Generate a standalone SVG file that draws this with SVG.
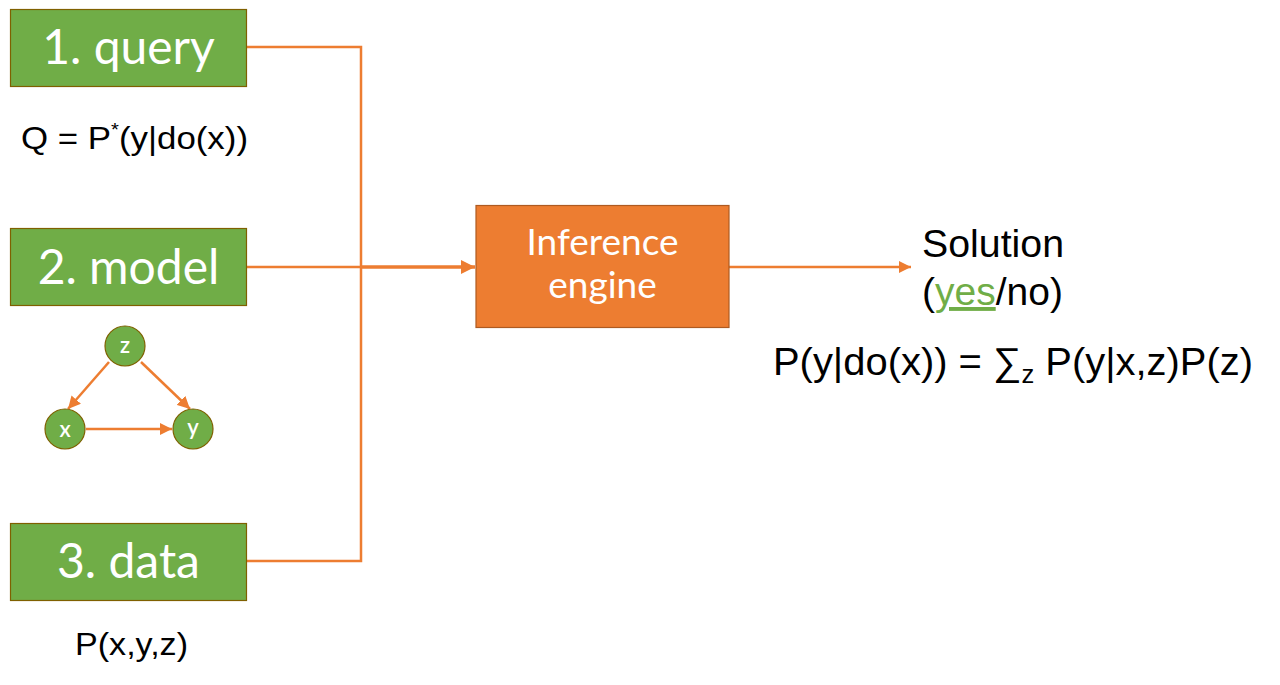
<svg xmlns="http://www.w3.org/2000/svg" width="1280" height="685" viewBox="0 0 1280 685">
<defs>
<style>
.box{fill:#70AD47;stroke:#7f6000;stroke-width:1.2}
.lbl{fill:#fff;font-family:Lato,"Open Sans",sans-serif;font-size:48px;text-anchor:middle}
.eng{fill:#ED7D31;stroke:#ae5a21;stroke-width:1.2}
.elbl{fill:#fff;font-family:Lato,"Open Sans",sans-serif;font-size:37px;text-anchor:middle}
.ar{font-family:"Liberation Sans",Arial,sans-serif;fill:#000}
.wire{fill:none;stroke:#ED7D31;stroke-width:2.5}
.circ{fill:#70AD47;stroke:#7f6000;stroke-width:1.2}
.clbl{fill:#fff;font-family:Lato,"Open Sans",sans-serif;font-size:22px;font-weight:600;text-anchor:middle}
</style>
<marker id="ah" viewBox="0 0 10 10" refX="10" refY="5" markerWidth="4" markerHeight="4" orient="auto" markerUnits="strokeWidth">
<path d="M0,0 L10,5 L0,10 z" fill="#ED7D31"/>
</marker>
<marker id="ahs" viewBox="0 0 10 10" refX="10" refY="5" markerWidth="5" markerHeight="5" orient="auto" markerUnits="strokeWidth">
<path d="M0,0 L10,5 L0,10 z" fill="#ED7D31"/>
</marker>
</defs>
<rect width="1280" height="685" fill="#fff"/>
<g id="connectors">
<path class="wire" d="M247,47 H361 V561 H247"/>
<path class="wire" d="M247,267 H361"/>
<path d="M361,267 H475" fill="none" stroke="#ED7D31" stroke-width="3.5" marker-end="url(#ah)"/>
<path class="wire" d="M729,267 H911" marker-end="url(#ahs)"/>
<path d="M109,362 L68,409" fill="none" stroke="#ED7D31" stroke-width="2.5" marker-end="url(#ahs)"/>
<path d="M141,362 L190,409" fill="none" stroke="#ED7D31" stroke-width="2.5" marker-end="url(#ahs)"/>
<path d="M86,429 L172,429" fill="none" stroke="#ED7D31" stroke-width="2.5" marker-end="url(#ahs)"/>
</g>
<g id="query">
<rect class="box" x="10.5" y="9.5" width="236" height="77"/>
<text class="lbl" x="128.5" y="64">1. query</text>
</g>
<g id="query-formula">
<text class="ar" x="21" y="149" font-size="31" textLength="227" lengthAdjust="spacingAndGlyphs">Q = P<tspan font-size="18" dy="-13">*</tspan><tspan dy="13">(y|do(x))</tspan></text>
</g>
<g id="model">
<rect class="box" x="10.5" y="228.5" width="236" height="77"/>
<text class="lbl" x="128.5" y="284">2. model</text>
</g>
<g id="node-z">
<circle class="circ" cx="125" cy="346" r="20"/>
<text class="clbl" x="125" y="353">z</text>
</g>
<g id="node-x">
<circle class="circ" cx="65" cy="429" r="20"/>
<text class="clbl" x="65" y="437">x</text>
</g>
<g id="node-y">
<circle class="circ" cx="193" cy="429" r="20"/>
<text class="clbl" x="193" y="435">y</text>
</g>
<g id="data">
<rect class="box" x="10.5" y="523.5" width="236" height="77"/>
<text class="lbl" x="128.5" y="578">3. data</text>
</g>
<g id="data-formula">
<text class="ar" x="75" y="655" font-size="32" textLength="113" lengthAdjust="spacingAndGlyphs">P(x,y,z)</text>
</g>
<g id="engine">
<rect class="eng" x="476" y="205.5" width="253" height="122"/>
<text class="elbl" x="602.5" y="255">Inference</text>
<text class="elbl" x="602.5" y="298">engine</text>
</g>
<g id="solution">
<text class="ar" x="922" y="257" font-size="39" textLength="142" lengthAdjust="spacingAndGlyphs">Solution</text>
<text class="ar" x="922" y="305" font-size="39">(<tspan fill="#70AD47" text-decoration="underline">yes</tspan>/no)</text>
<text class="ar" x="773" y="375" font-size="39" textLength="480" lengthAdjust="spacingAndGlyphs">P(y|do(x)) = ∑<tspan font-size="25" dy="8">z</tspan><tspan dy="-8"> P(y|x,z)P(z)</tspan></text>
</g>
</svg>
